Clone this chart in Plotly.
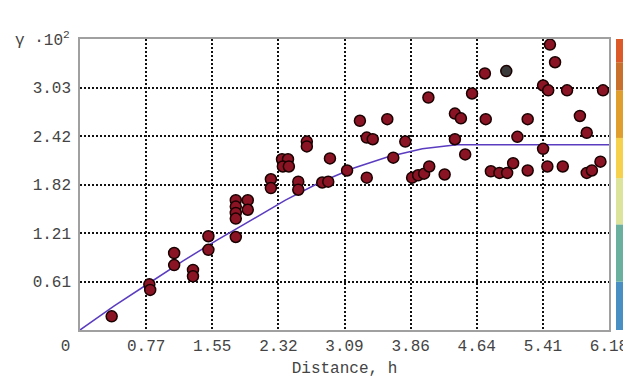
import plotly.graph_objects as go

# Experimental semivariogram points (distance h, gamma x10^2)
dist = [0.37, 0.81, 0.82, 1.10, 1.10, 1.32, 1.32, 1.50, 1.50, 1.82, 1.82, 1.82, 1.82, 1.82,
        1.96, 1.96, 2.23, 2.23, 2.36, 2.43, 2.37, 2.44, 2.55, 2.55, 2.65, 2.65, 2.92, 2.83,
        2.90, 3.12, 3.27, 3.35, 3.42, 3.59, 3.35, 3.66, 3.80, 3.88, 3.95, 4.02, 4.08, 4.07,
        4.38, 4.45, 4.38, 4.50, 4.58, 4.73, 4.74, 4.26, 4.98, 4.80, 4.90, 4.99, 5.23, 5.11,
        5.41, 5.06, 5.23, 5.46, 5.64, 5.92, 5.98, 6.08, 5.41, 5.47, 5.49, 5.55, 5.69, 5.84,
        5.92, 6.11, 5.88]
gamma = [0.17, 0.57, 0.50, 0.96, 0.81, 0.75, 0.67, 1.17, 1.00, 1.62, 1.54, 1.46, 1.39, 1.16,
         1.62, 1.50, 1.88, 1.77, 2.13, 2.13, 2.04, 2.04, 1.85, 1.75, 2.35, 2.29, 2.14, 1.84,
         1.85, 1.99, 2.61, 2.40, 2.38, 2.63, 1.90, 2.15, 2.35, 1.90, 1.93, 1.95, 2.04, 2.90,
         2.70, 2.64, 2.38, 2.19, 2.95, 3.20, 2.63, 1.94, 3.23, 1.98, 1.96, 1.96, 2.63, 2.41,
         2.26, 2.08, 1.99, 2.04, 2.04, 1.96, 1.99, 2.10, 3.05, 2.99, 3.56, 3.34, 2.99, 2.67,
         2.46, 2.99, 3.64]
grey_index = 50  # the one darker/grey point

# Fitted model curve
model_h = [0, 0.4, 0.8, 1.2, 1.6, 2.0, 2.4, 2.8, 3.2, 3.6, 4.0, 4.4, 6.18]
model_g = [0, 0.30, 0.58, 0.86, 1.12, 1.37, 1.62, 1.84, 2.02, 2.16, 2.26, 2.31, 2.31]

x_ticks = [0, 0.7725, 1.545, 2.3175, 3.09, 3.8625, 4.635, 5.4075, 6.18]
x_labels = ["0\u00a0\u00a0\u00a0", "0.77", "1.55", "2.32", "3.09", "3.86", "4.64", "5.41", "6.18"]
y_ticks = [0.605, 1.21, 1.815, 2.42, 3.025]
y_labels = ["0.61", "1.21", "1.82", "2.42", "3.03"]

# colour strip on the right (bottom -> top), fractions of the height
strip_bounds = [0, 0.166, 0.363, 0.522, 0.66, 0.823, 0.92, 1.0]
strip_colors = ["#4a8fc3", "#6bb09e", "#dce39a", "#f6d24c", "#e09e2c", "#c9702c", "#dc5a2a"]

fill = ["#8b1424"] * len(dist)
fill[grey_index] = "#3a3a3a"

fig = go.Figure()
fig.add_trace(go.Scatter(
    x=model_h, y=model_g, mode="lines",
    line=dict(color="#5a3cc0", width=1.5), hoverinfo="skip", showlegend=False))
fig.add_trace(go.Scatter(
    x=dist, y=gamma, mode="markers",
    marker=dict(size=11, color=fill, line=dict(color="#1a0000", width=1.5)),
    showlegend=False, cliponaxis=False))

heights = [strip_bounds[i + 1] - strip_bounds[i] for i in range(len(strip_colors))]
fig.add_trace(go.Bar(
    x=[0] * len(heights), y=heights, base=strip_bounds[:-1], width=1,
    marker=dict(color=strip_colors, line=dict(width=0)),
    xaxis="x2", yaxis="y2", showlegend=False, hoverinfo="skip"))

tick_font = dict(family="Liberation Mono", size=16, color="#444")
fig.update_layout(
    width=623, height=370,
    margin=dict(l=72, r=2, t=31, b=48, autoexpand=False),
    plot_bgcolor="white", paper_bgcolor="white",
    xaxis=dict(domain=[0, 529 / 549], range=[0, 6.18], tickvals=x_ticks, ticktext=x_labels,
               tickfont=tick_font, showgrid=True, gridcolor="#111", gridwidth=1.5,
               griddash="2px,2px", showline=True, linecolor="#a0a0a0", linewidth=1.5,
               mirror=True, zeroline=False, ticks="", automargin=False,
               title=dict(text="Distance,\u00a0h",
                          font=dict(family="Liberation Mono", size=16, color="#444"),
                          standoff=8)),
    yaxis=dict(range=[0, 3.63], tickvals=y_ticks, ticktext=y_labels, tickfont=tick_font,
               showgrid=True, gridcolor="#111", gridwidth=1.5, griddash="2px,2px",
               showline=True, linecolor="#a0a0a0", linewidth=1.5, mirror=True,
               zeroline=False, ticks="", ticklabelstandoff=4, automargin=False),
    xaxis2=dict(domain=[536 / 549, 547 / 549], range=[-0.5, 0.5], visible=False,
                fixedrange=True),
    yaxis2=dict(anchor="x2", range=[0, 1], visible=False, fixedrange=True),
    barmode="overlay",
)

fig.add_annotation(text="\u03b3 \u00b710<sup>2</sup>", xref="paper", yref="paper",
                   x=-67 / 549, y=1.0, xanchor="left", yanchor="middle", showarrow=False,
                   font=dict(family="Liberation Mono", size=16, color="#444"))

fig.write_html("out.html")
